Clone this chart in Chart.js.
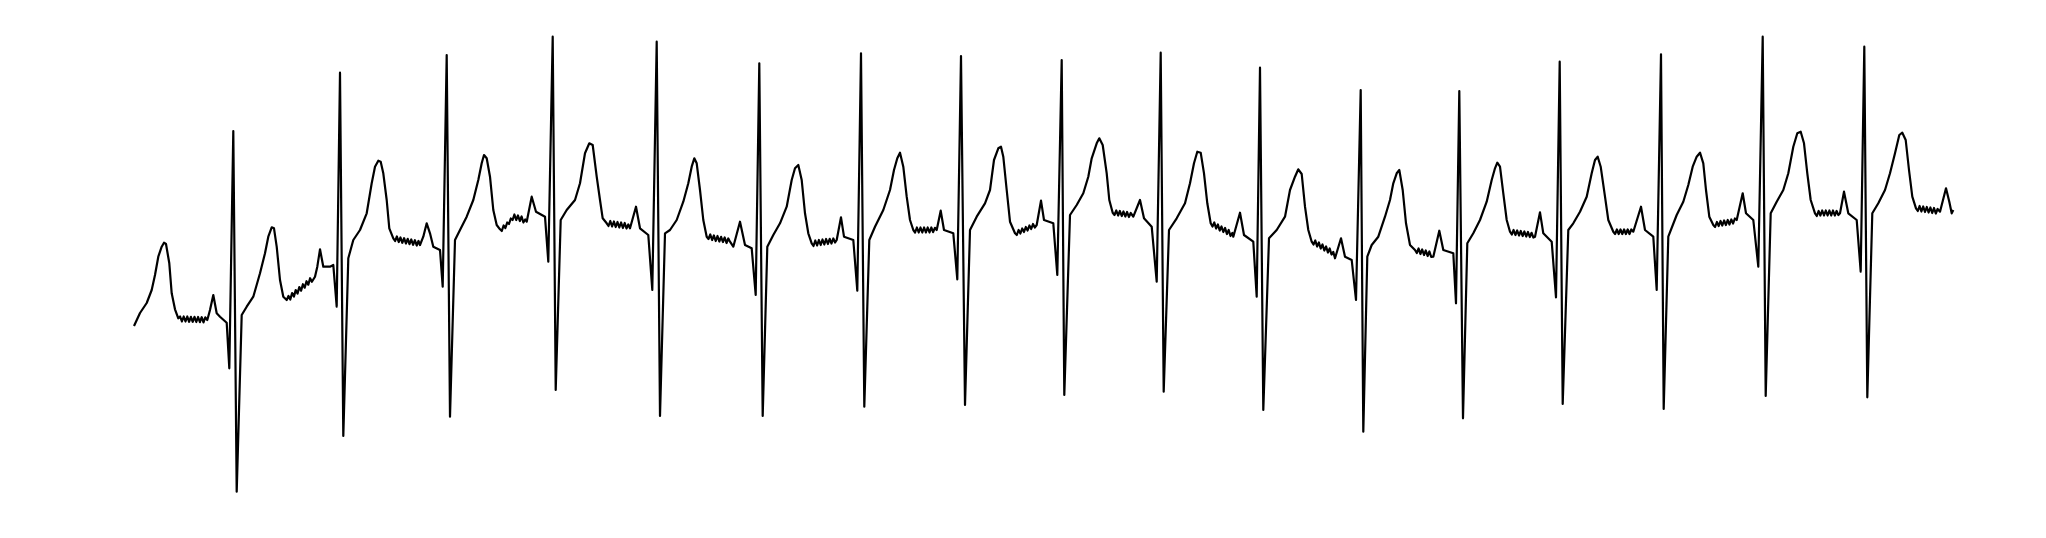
<!DOCTYPE html>
<html>
<head>
<meta charset="utf-8">
<script src="https://cdn.jsdelivr.net/npm/chart.js@4/dist/chart.umd.min.js"></script>
<style>
  html, body { margin: 0; padding: 0; background: #fff; }
  #ecg { display: block; }
</style>
</head>
<body>
<canvas id="ecg" width="2046" height="538"></canvas>
<script>
// sample times, ms (one line per stretch of the trace)
const timeMs = [
  40, 100, 167, 217, 250, 283, 317, 340, 360, 393, 417, 450, 483,
  501, 519, 537, 555, 573, 591, 609, 627, 645, 663, 681, 699, 717, 735, 753,
  773, 800, 833, 867, 900, 967, 993, 1033, 1067, 1117, 1167, 1233, 1300, 1350, 1383, 1417, 1440, 1467, 1500, 1533, 1567,
  1585, 1603, 1621, 1639, 1657, 1675, 1693, 1711, 1729, 1747, 1765, 1783, 1801, 1819,
  1850, 1873, 1900, 1933, 2000, 2033, 2067, 2100, 2133, 2183, 2233, 2300, 2367, 2417, 2450, 2483, 2507, 2533, 2567, 2593, 2633,
  2651, 2669, 2687, 2705, 2723, 2741, 2759, 2777, 2795, 2813, 2831, 2849, 2867, 2885,
  2900, 2933, 2967, 3000, 3033, 3100, 3127, 3167, 3200, 3250, 3300, 3367, 3433, 3483, 3517, 3540, 3567, 3600, 3633, 3667, 3700,
  3718, 3736, 3754, 3772, 3790, 3808, 3826, 3844, 3862, 3880, 3898, 3916, 3934, 3952,
  3967, 4017, 4060, 4150, 4183, 4227, 4257, 4307, 4367, 4450, 4500, 4550, 4593, 4627, 4667, 4700, 4727, 4767,
  4785, 4803, 4821, 4839, 4857, 4875, 4893, 4911, 4929, 4947, 4965, 4983,
  5000, 5060, 5100, 5183, 5223, 5267, 5300, 5350, 5400, 5467, 5533, 5583, 5617, 5643, 5667, 5700, 5733, 5767,
  5785, 5803, 5821, 5839, 5857, 5875, 5893, 5911, 5929, 5947, 5965, 5983,
  6000, 6033, 6100, 6150, 6217, 6257, 6293, 6327, 6373, 6433, 6500, 6567, 6617, 6650, 6683, 6717, 6750, 6783, 6817,
  6835, 6853, 6871, 6889, 6907, 6925, 6943, 6961, 6979, 6997, 7015, 7033, 7051,
  7067, 7110, 7140, 7233, 7273, 7310, 7343, 7393, 7450, 7533, 7600, 7640, 7673, 7700, 7733, 7767, 7800, 7833,
  7851, 7869, 7887, 7905, 7923, 7941, 7959, 7977, 7995, 8013, 8031, 8049,
  8067, 8107, 8140, 8233, 8273, 8310, 8350, 8400, 8467, 8550, 8600, 8640, 8683, 8710, 8733, 8767, 8800, 8850,
  8868, 8886, 8904, 8922, 8940, 8958, 8976, 8994, 9012, 9030, 9048,
  9067, 9110, 9140, 9233, 9273, 9317, 9343, 9400, 9467, 9533, 9583, 9617, 9667, 9693, 9727, 9767, 9793, 9827,
  9845, 9863, 9881, 9899, 9917, 9935, 9953, 9971, 9989, 10007,
  10033, 10100, 10140, 10217, 10267, 10307, 10337, 10390, 10467, 10550, 10600, 10640, 10673, 10707, 10740, 10773, 10807,
  10825, 10843, 10861, 10879, 10897, 10915, 10933, 10951, 10969, 10987, 11005, 11023,
  11033, 11100, 11140, 11233, 11267, 11300, 11333, 11390, 11467, 11550, 11600, 11650, 11683, 11717, 11750, 11783, 11817,
  11835, 11853, 11871, 11889, 11907, 11925, 11943, 11961, 11979, 11997, 12015, 12033,
  12050, 12110, 12150, 12217, 12260, 12307, 12333, 12373, 12417, 12483, 12550, 12600, 12633, 12667, 12693, 12727, 12760, 12800, 12850,
  12868, 12886, 12904, 12922, 12940, 12958, 12976, 12994, 13012,
  13033, 13093, 13133, 13233, 13260, 13293, 13330, 13373, 13433, 13500, 13567, 13617, 13650, 13673, 13700, 13733, 13767, 13800,
  13818, 13836, 13854, 13872, 13890, 13908, 13926, 13944, 13962, 13980, 13998, 14016, 14034,
  14050, 14100, 14133, 14217, 14260, 14297, 14327, 14383, 14433, 14500, 14567, 14617, 14650, 14677, 14707, 14750, 14783, 14833,
  14851, 14869, 14887, 14905, 14923, 14941, 14959, 14977, 14995, 15013,
  15033, 15110, 15150, 15233, 15267, 15310, 15337, 15383, 15467, 15533, 15583, 15627, 15667, 15700, 15733, 15760, 15793, 15833,
  15851, 15869, 15887, 15905, 15923, 15941, 15959, 15977, 15995, 16013, 16031, 16049,
  16067, 16127, 16160, 16233, 16283, 16327, 16357, 16407, 16467, 16533, 16583, 16633, 16673, 16707, 16740, 16773, 16807, 16850,
  16868, 16886, 16904, 16922, 16940, 16958, 16976, 16994, 17012, 17030, 17048, 17066, 17084,
  17100, 17140, 17183, 17267, 17307, 17343, 17373, 17423, 17483, 17550, 17600, 17650, 17693, 17723, 17757, 17790, 17823, 17860,
  17878, 17896, 17914, 17932, 17950, 17968, 17986, 18004, 18022, 18040, 18058, 18076,
  18100, 18160, 18193, 18217, 18233
];

// amplitudes, microvolts (same line layout as timeMs)
const amplitudeUv = [
  -260, -130, -30, 100, 250, 433, 533, 573, 560, 367, 67, -93, -183,
  -165, -215, -165, -215, -165, -218, -168, -218, -168, -220, -170, -222, -172, -224, -174,
  -200, -100, 50, -133, -167, -227, -683, 1690, -1917, -150, -67, 33, 267, 467, 633, 727, 717, 533, 200, 33, 0,
  40, 5, 69, 34, 99, 64, 129, 93, 158, 123, 188, 153, 218, 182,
  233, 333, 507, 333, 333, 350, -67, 2273, -1360, 417, 600, 700, 867, 1167, 1333, 1393, 1383, 1267, 1000, 717, 617,
  590, 635, 580, 625, 572, 618, 565, 612, 558, 605, 552, 598, 545, 590,
  550, 633, 767, 667, 533, 500, 133, 2450, -1167, 600, 700, 833, 1000, 1200, 1367, 1450, 1417, 1233, 900, 750, 707,
  690, 745, 720, 775, 760, 815, 800, 855, 800, 845, 790, 835, 775, 805,
  783, 1033, 883, 833, 383, 2633, -900, 800, 900, 1000, 1167, 1467, 1567, 1550, 1233, 1000, 817, 767,
  740, 790, 735, 785, 730, 780, 725, 775, 720, 770, 715, 755,
  717, 933, 717, 650, 100, 2583, -1160, 667, 700, 800, 983, 1167, 1333, 1417, 1367, 1100, 800, 633,
  610, 655, 600, 645, 590, 640, 585, 632, 580, 625, 570, 615,
  583, 533, 783, 550, 517, 50, 2367, -1160, 533, 650, 767, 933, 1200, 1317, 1350, 1200, 867, 667, 567,
  540, 595, 545, 600, 550, 605, 555, 610, 560, 612, 565, 615, 575,
  600, 827, 633, 600, 93, 2467, -1067, 600, 733, 900, 1100, 1300, 1417, 1473, 1333, 1033, 800, 700,
  675, 725, 675, 725, 675, 725, 675, 725, 675, 725, 678, 722,
  700, 893, 700, 667, 207, 2440, -1050, 700, 833, 967, 1100, 1400, 1517, 1533, 1433, 1100, 783, 667,
  650, 700, 665, 715, 680, 730, 695, 745, 710, 760, 725,
  750, 993, 800, 767, 250, 2400, -950, 850, 950, 1067, 1233, 1417, 1567, 1617, 1550, 1267, 1000, 873,
  850, 895, 845, 890, 840, 885, 835, 880, 830, 870,
  833, 1000, 817, 733, 183, 2473, -917, 700, 817, 967, 1167, 1367, 1483, 1473, 1267, 967, 767,
  735, 775, 715, 755, 695, 735, 680, 720, 660, 700, 640, 670,
  633, 873, 650, 583, 33, 2323, -1100, 617, 700, 833, 1100, 1233, 1307, 1260, 933, 700, 583,
  555, 595, 535, 575, 515, 555, 495, 535, 475, 515, 455, 480,
  417, 617, 433, 400, 0, 2100, -1317, 433, 550, 633, 833, 1000, 1167, 1267, 1300, 1100, 767, 550, 500,
  470, 515, 460, 505, 450, 495, 440, 485, 430,
  433, 693, 500, 467, -33, 2090, -1183, 567, 667, 800, 983, 1200, 1317, 1373, 1333, 1067, 800, 683,
  655, 700, 650, 695, 645, 690, 640, 685, 635, 680, 630, 672, 625,
  633, 877, 667, 583, 27, 2383, -1040, 700, 767, 883, 1033, 1267, 1400, 1433, 1333, 1033, 800, 683,
  660, 705, 660, 705, 660, 705, 660, 705, 660, 705,
  683, 933, 700, 633, 100, 2457, -1090, 633, 850, 983, 1150, 1333, 1433, 1473, 1367, 1100, 833, 750,
  730, 780, 740, 790, 745, 795, 750, 800, 755, 805, 765, 815,
  800, 1067, 867, 800, 333, 2633, -960, 867, 983, 1100, 1267, 1533, 1667, 1683, 1567, 1267, 1000, 867,
  840, 890, 845, 895, 845, 895, 845, 895, 845, 895, 845, 890, 850,
  867, 1083, 867, 800, 283, 2533, -973, 867, 967, 1100, 1267, 1467, 1650, 1673, 1600, 1300, 1033, 917,
  890, 940, 885, 935, 880, 930, 875, 925, 870, 920, 865, 910,
  883, 1117, 983, 867, 900
];

const n = Math.min(timeMs.length, amplitudeUv.length);
const points = timeMs.slice(0, n).map((t, i) => ({ x: t, y: amplitudeUv[i] }));

new Chart(document.getElementById('ecg'), {
  type: 'line',
  data: {
    datasets: [{
      data: points,
      borderColor: '#000',
      borderWidth: 2.2,
      borderJoinStyle: 'round',
      pointRadius: 0,
      tension: 0,
      fill: false
    }]
  },
  options: {
    responsive: false,
    animation: false,
    layout: { padding: 0 },
    plugins: { legend: { display: false }, tooltip: { enabled: false } },
    scales: {
      x: { type: 'linear', min: -1300, max: 19160, display: false },
      y: { min: -2380, max: 3000, display: false }
    }
  }
});
</script>
</body>
</html>
